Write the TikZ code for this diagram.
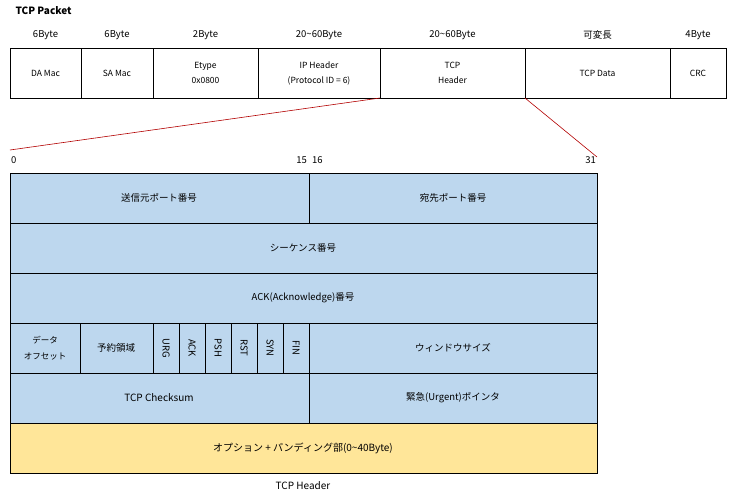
\documentclass[tikz,border=0pt]{standalone}
\usepackage{fontspec}
\setmainfont{Noto Sans CJK JP}
\begin{document}
\begin{tikzpicture}[x=1pt,y=-1pt,
  cell/.style={draw=black,line width=0.6pt},
  bl/.style={cell,fill=blue!8!cyan!5!white,fill=b},
  lab/.style={font=\fontsize{9.5}{11}\selectfont,inner sep=1pt},
  vlab/.style={lab,rotate=-90}]
\definecolor{b}{HTML}{BDD7EE}
\definecolor{y}{HTML}{FFE699}
\useasboundingbox (0,0) rectangle (748,498);
\node[anchor=west,font=\fontsize{10}{12}\selectfont\bfseries] (title) at (12,11) {TCP Packet};
% top packet
\foreach \a/\b/\t/\h [count=\i] in {10/81/DA Mac/6Byte,81/153/SA Mac/6Byte,153/258/{Etype\\0x0800}/2Byte,258/380/{IP Header\\(Protocol ID = 6)}/20\textasciitilde60Byte,380/525/{TCP\\Header}/20\textasciitilde60Byte,525/670/TCP Data/可変長,670/726/CRC/4Byte}{
  \draw[cell] (\a,48) rectangle (\b,98);
  \node[lab,align=center,font=\fontsize{8.5}{15}\selectfont] (p\i) at ({(\a+\b)/2},73) {\t};
  \node[lab] (h\i) at ({(\a+\b)/2},35) {\h};
}
\node[lab,anchor=west] at (10,35) {\phantom{}};
\coordinate (l1) at (380,98); \coordinate (l2) at (10,150);
\coordinate (r1) at (525,98); \coordinate (r2) at (597,157);
\draw[red!70!black,line width=0.6pt] (l1)--(l2) (r1)--(r2);
% bit labels
\node[lab,anchor=west] (b0) at (10,160) {0};
\node[lab,anchor=east] (b15) at (308,160) {15};
\node[lab,anchor=west] (b16) at (311,160) {16};
\node[lab,anchor=east] (b31) at (597,160) {31};
% table
\draw[bl] (10,173) rectangle (309,223); \node[lab] at (159,198) {送信元ポート番号};
\draw[bl] (309,173) rectangle (597,223); \node[lab] at (453,198) {宛先ポート番号};
\draw[bl] (10,223) rectangle (597,273); \node[lab] at (303,248) {シーケンス番号};
\draw[bl] (10,273) rectangle (597,323); \node[lab] at (303,298) {ACK(Acknowledge)番号};
\draw[bl] (10,323) rectangle (80,373); \node[lab,align=center,font=\fontsize{8.5}{16}\selectfont] at (45,348) {データ\\オフセット};
\draw[bl] (80,323) rectangle (153,373); \node[lab] at (116,348) {予約領域};
\foreach \t [count=\i from 0] in {URG,ACK,PSH,RST,SYN,FIN}{
  \draw[bl] ({153+26*\i},323) rectangle ({179+26*\i},373);
  \node[vlab] (f\i) at ({166+26*\i},348) {\t};
}
\draw[bl] (309,323) rectangle (597,373); \node[lab] at (453,348) {ウィンドウサイズ};
\draw[bl] (10,373) rectangle (309,423); \node[lab,font=\fontsize{10}{12}\selectfont] at (159,398) {TCP Checksum};
\draw[bl] (309,373) rectangle (597,423); \node[lab] at (453,398) {緊急(Urgent)ポインタ};
\draw[cell,fill=y] (10,423) rectangle (597,473); \node[lab,font=\fontsize{10}{12}\selectfont] at (303,448) {オプション + パンディング部(0\textasciitilde40Byte)};
\node[lab,font=\fontsize{10}{12}\selectfont] (cap) at (303,486) {TCP Header};
\end{tikzpicture}
\end{document}
